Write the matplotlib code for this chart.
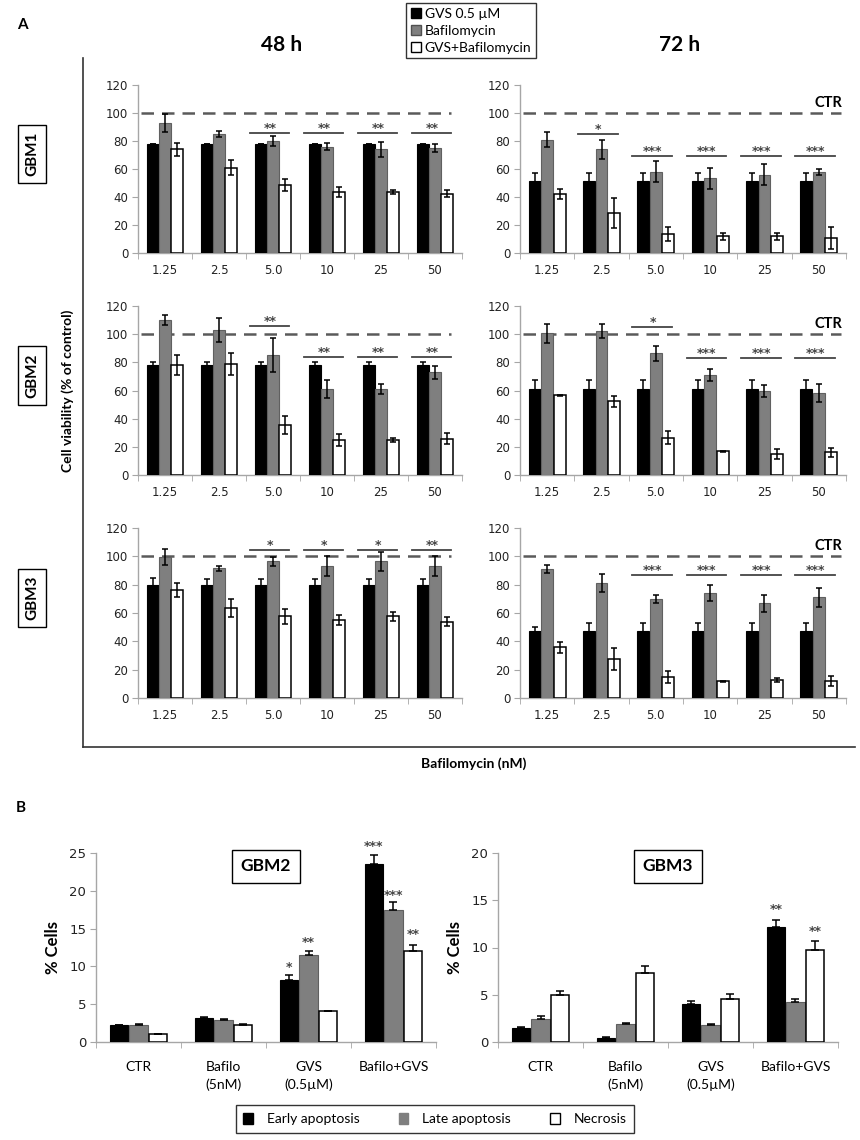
import numpy as np
import matplotlib
matplotlib.use('Agg')
import matplotlib.pyplot as plt
from matplotlib.patches import Patch
from matplotlib.lines import Line2D

plt.rcParams['font.family'] = ['Lato', 'DejaVu Sans']

# ---------------- dados ----------------
conc = ['1.25', '2.5', '5.0', '10', '25', '50']

# GBM1 48 h
g1_48_gvs = [78, 78, 78, 78, 78, 78]
g1_48_gvs_err = [0, 0, 0, 0, 0, 0]
g1_48_baf = [93, 85, 80, 76, 74, 75]
g1_48_baf_err = [6.5, 2, 3.5, 2.5, 5.5, 3]
g1_48_mix = [74, 61, 48.5, 43.5, 43.5, 42.5]
g1_48_mix_err = [4.5, 5.5, 4.3, 3.6, 1.2, 2.8]
g1_48_sig = [(2, 86, '**'), (3, 86, '**'), (4, 86, '**'), (5, 86, '**')]

# GBM1 72 h
g1_72_gvs = [51.5, 51.5, 51.5, 51.5, 51.5, 51.5]
g1_72_gvs_err = [5.7, 5.7, 5.7, 5.7, 5.7, 5.7]
g1_72_baf = [81, 74, 58, 53.5, 56, 58]
g1_72_baf_err = [5.5, 7, 7.5, 7.5, 7.5, 2]
g1_72_mix = [42, 28.5, 13.7, 11.8, 11.8, 10.7]
g1_72_mix_err = [3.5, 10.7, 5.2, 2.4, 2.4, 7.8]
g1_72_sig = [(1, 85, '*'), (2, 69.5, '***'), (3, 69.5, '***'), (4, 69.5, '***'), (5, 69.5, '***')]

# GBM2 48 h
g2_48_gvs = [78, 78, 78, 78, 78, 78]
g2_48_gvs_err = [2, 2, 2, 2, 2, 2]
g2_48_baf = [110, 103, 85, 61, 61, 73]
g2_48_baf_err = [3.5, 8.3, 12, 6.6, 3.5, 4.7]
g2_48_mix = [78, 78.7, 35.3, 25, 25, 25.8]
g2_48_mix_err = [7, 7.6, 6.4, 4.4, 1.5, 4]
g2_48_sig = [(2, 105.5, '**'), (3, 83.5, '**'), (4, 83.5, '**'), (5, 83.5, '**')]

# GBM2 72 h
g2_72_gvs = [61, 61, 61, 61, 61, 61]
g2_72_gvs_err = [6.5, 6.5, 6.5, 6.5, 6.5, 6.5]
g2_72_baf = [100.5, 102, 86.3, 71, 59.7, 58]
g2_72_baf_err = [7, 5, 5.2, 4.2, 4.5, 6.4]
g2_72_mix = [56.6, 52.4, 26.5, 16.8, 15.2, 16]
g2_72_mix_err = [0.3, 3.8, 4.7, 0.5, 3.5, 3.5]
g2_72_sig = [(2, 105, '*'), (3, 83, '***'), (4, 83, '***'), (5, 83, '***')]

# GBM3 48 h
g3_48_gvs = [80, 80, 80, 80, 80, 80]
g3_48_gvs_err = [5, 4, 4, 4, 4, 4]
g3_48_baf = [99.5, 91.5, 96.5, 93, 96.5, 93]
g3_48_baf_err = [5.5, 2, 3, 7, 6.5, 7]
g3_48_mix = [76, 63.5, 57.6, 55.3, 57.6, 54]
g3_48_mix_err = [5, 6.5, 5.5, 3.5, 3, 3.5]
g3_48_sig = [(2, 104.7, '*'), (3, 104.7, '*'), (4, 104.7, '*'), (5, 104.7, '**')]

# GBM3 72 h
g3_72_gvs = [47, 47, 47, 47, 47, 47]
g3_72_gvs_err = [3, 6, 6, 6, 6, 6]
g3_72_baf = [91, 81, 70, 74, 67, 71]
g3_72_baf_err = [3, 6.5, 3, 5.5, 6, 6.5]
g3_72_mix = [35.8, 27.5, 14.8, 11.8, 12.5, 12.2]
g3_72_mix_err = [4, 7.5, 4.5, 0.5, 1.5, 3.5]
g3_72_sig = [(2, 87, '***'), (3, 87, '***'), (4, 87, '***'), (5, 87, '***')]

# Painel B
grupos = ['CTR', 'Bafilo\n(5nM)', 'GVS\n(0.5µM)', 'Bafilo+GVS']
b2_early = [2.2, 3.2, 8.2, 23.5]
b2_early_err = [0.1, 0.1, 0.6, 1.3]
b2_late = [2.25, 2.95, 11.5, 17.5]
b2_late_err = [0.1, 0.05, 0.6, 1.0]
b2_necr = [1.0, 2.3, 4.1, 12.1]
b2_necr_err = [0.05, 0.05, 0.05, 0.7]
b2_sig = [(2, 0, 9.8, '*'), (2, 1, 13.2, '**'), (3, 0, 25.9, '***'), (3, 1, 19.4, '***'), (3, 2, 14.2, '**')]

b3_early = [1.5, 0.4, 4.0, 12.2]
b3_early_err = [0.1, 0.1, 0.35, 0.7]
b3_late = [2.4, 1.9, 1.8, 4.2]
b3_late_err = [0.35, 0.1, 0.1, 0.3]
b3_necr = [5.0, 7.3, 4.6, 9.7]
b3_necr_err = [0.4, 0.7, 0.5, 1.0]
b3_sig = [(3, 0, 14.0, '**'), (3, 2, 11.7, '**')]

# ---------------- layout ----------------
W, H = 860, 1140
fig = plt.figure(figsize=(W / 100, H / 100), dpi=100)


def rect(x0, y0, x1, y1):
    # caixa em pixels (origem no topo) -> fração da figura
    return [x0 / W, 1 - y1 / H, (x1 - x0) / W, (y1 - y0) / H]


def fx(x):
    return x / W


def fy(y):
    return 1 - y / H


GRAY = '#7f7f7f'
AXC = '#a6a6a6'
NUM = dict(family='DejaVu Sans', size=8.5, color='#222222')
off = 0.23
bw = 0.22
ekw = dict(ecolor='black', elinewidth=1.1, capthick=1.1)


def estilo_eixo(ax, n):
    for s in ['top', 'right']:
        ax.spines[s].set_visible(False)
    for s in ['left', 'bottom']:
        ax.spines[s].set_color(AXC)
        ax.spines[s].set_linewidth(1.0)
    ax.set_xlim(-0.5, n - 0.5)
    ax.set_xticks(np.arange(n))
    ax.set_xticks(np.arange(n + 1) - 0.5, minor=True)
    ax.tick_params(axis='x', which='major', length=0, pad=8)
    ax.tick_params(axis='x', which='minor', length=4, color=AXC, direction='out')
    ax.tick_params(axis='y', length=4, color=AXC, direction='out', pad=3)
    for lb in ax.get_yticklabels():
        lb.set_fontfamily(NUM['family'])
        lb.set_fontsize(NUM['size'])
        lb.set_color(NUM['color'])


def painel_viab(ax, gvs, gvs_e, baf, baf_e, mix, mix_e, sig, ctr):
    x = np.arange(len(conc))
    ax.bar(x - off, gvs, bw, color='black', edgecolor='black', lw=0.8,
           yerr=gvs_e, capsize=2.5, error_kw=ekw, zorder=3)
    ax.bar(x, baf, bw, color=GRAY, edgecolor='#606060', lw=0.8,
           yerr=baf_e, capsize=2.5, error_kw=ekw, zorder=3)
    ax.bar(x + off, mix, bw, color='white', edgecolor='black', lw=1.1,
           yerr=mix_e, capsize=2.5, error_kw=ekw, zorder=3)
    ax.plot([-0.45, 5.4 if ctr else 5.3], [100, 100], ls=(0, (5, 3.2)),
            color='#5a5a5a', lw=1.8, zorder=2)
    for g, yv, st in sig:
        ax.plot([g - 0.43, g + 0.3], [yv, yv], color='#444444', lw=1.3)
        ax.text(g - 0.06, yv + 3.2, st, ha='center', va='center',
                family='DejaVu Sans', fontsize=9, fontweight='bold', color='#444444')
    if ctr:
        ax.text(5.18, 107, 'CTR', ha='center', va='center', fontsize=10.5,
                fontweight='bold')
    ax.set_ylim(0, 120)
    ax.set_yticks(range(0, 121, 20))
    ax.set_xticklabels(conc, **NUM)
    estilo_eixo(ax, len(conc))


linhas = [
    ('GBM1', 85, 253, (g1_48_gvs, g1_48_gvs_err, g1_48_baf, g1_48_baf_err, g1_48_mix, g1_48_mix_err, g1_48_sig),
     (g1_72_gvs, g1_72_gvs_err, g1_72_baf, g1_72_baf_err, g1_72_mix, g1_72_mix_err, g1_72_sig)),
    ('GBM2', 306, 475, (g2_48_gvs, g2_48_gvs_err, g2_48_baf, g2_48_baf_err, g2_48_mix, g2_48_mix_err, g2_48_sig),
     (g2_72_gvs, g2_72_gvs_err, g2_72_baf, g2_72_baf_err, g2_72_mix, g2_72_mix_err, g2_72_sig)),
    ('GBM3', 528, 698, (g3_48_gvs, g3_48_gvs_err, g3_48_baf, g3_48_baf_err, g3_48_mix, g3_48_mix_err, g3_48_sig),
     (g3_72_gvs, g3_72_gvs_err, g3_72_baf, g3_72_baf_err, g3_72_mix, g3_72_mix_err, g3_72_sig)),
]

for nome, top, bot, d48, d72 in linhas:
    ax1 = fig.add_axes(rect(138, top, 462, bot))
    painel_viab(ax1, *d48, ctr=False)
    ax2 = fig.add_axes(rect(520, top, 846, bot))
    painel_viab(ax2, *d72, ctr=True)
    fig.text(fx(32), fy((top + bot) / 2 - 15), nome, rotation=90, ha='center', va='center',
             fontsize=11, fontweight='bold',
             bbox=dict(boxstyle='square,pad=0.45', fc='white', ec='black', lw=1.0))

# moldura do painel A
fig.add_artist(Line2D([fx(83), fx(83)], [fy(58), fy(747)], color='#333333', lw=1.2))
fig.add_artist(Line2D([fx(83), fx(855)], [fy(747), fy(747)], color='#333333', lw=1.2))

fig.text(fx(22), fy(25), 'A', fontsize=11, fontweight='bold', ha='center', va='center')
fig.text(fx(282), fy(45), '48 h', fontsize=15, fontweight='bold', ha='center', va='center')
fig.text(fx(680), fy(45), '72 h', fontsize=15, fontweight='bold', ha='center', va='center')
fig.text(fx(68), fy(391), 'Cell viability (% of control)', rotation=90, fontsize=10,
         fontweight='bold', ha='center', va='center')
fig.text(fx(474), fy(764), 'Bafilomycin (nM)', fontsize=10, fontweight='bold',
         ha='center', va='center')

leg_a = [Patch(fc='black', ec='black'), Patch(fc=GRAY, ec='#505050'), Patch(fc='white', ec='black')]
la = fig.legend(leg_a, ['GVS 0.5 µM', 'Bafilomycin', 'GVS+Bafilomycin'], loc='upper left',
                bbox_to_anchor=(fx(406), fy(3)), fontsize=10, frameon=True, fancybox=False,
                edgecolor='black', handlelength=0.7, handleheight=0.7, handletextpad=0.3,
                labelspacing=0.35, borderpad=0.35, borderaxespad=0)
la.get_frame().set_linewidth(1.0)

# ---------------- painel B ----------------
fig.text(fx(21), fy(808), 'B', fontsize=11, fontweight='bold', ha='center', va='center')


def painel_cel(ax, early, early_e, late, late_e, necr, necr_e, sig, ymax, nome):
    x = np.arange(len(grupos))
    ekw_b = dict(ecolor='black', elinewidth=1.1, capthick=1.1)
    ax.bar(x - off, early, bw, color='black', edgecolor='black', lw=0.8,
           yerr=[np.zeros(4), early_e], capsize=3, error_kw=ekw_b, zorder=3)
    ax.bar(x, late, bw, color=GRAY, edgecolor='#606060', lw=0.8,
           yerr=[np.zeros(4), late_e], capsize=3, error_kw=ekw_b, zorder=3)
    ax.bar(x + off, necr, bw, color='white', edgecolor='black', lw=1.1,
           yerr=[np.zeros(4), necr_e], capsize=3, error_kw=ekw_b, zorder=3)
    for g, k, yv, st in sig:
        ax.text(g + (k - 1) * off, yv, st, ha='center', va='center', family='DejaVu Sans',
                fontsize=9, fontweight='bold', color='#444444')
    ax.set_ylim(0, ymax)
    ax.set_yticks(range(0, ymax + 1, 5))
    ax.set_xticklabels(grupos, fontsize=10, linespacing=1.5)
    estilo_eixo(ax, len(grupos))
    ax.tick_params(axis='x', which='major', pad=14)
    ax.tick_params(axis='y', labelsize=9.5)
    ax.set_ylabel('% Cells', fontsize=12, fontweight='bold', labelpad=6)
    ax.text(0.5, 0.93, nome, transform=ax.transAxes, ha='center', va='center',
            fontsize=12.5, fontweight='bold',
            bbox=dict(boxstyle='square,pad=0.5', fc='white', ec='black', lw=1.0))


axb1 = fig.add_axes(rect(96, 853, 436, 1042))
painel_cel(axb1, b2_early, b2_early_err, b2_late, b2_late_err, b2_necr, b2_necr_err, b2_sig, 25, 'GBM2')
axb2 = fig.add_axes(rect(498, 853, 838, 1042))
painel_cel(axb2, b3_early, b3_early_err, b3_late, b3_late_err, b3_necr, b3_necr_err, b3_sig, 20, 'GBM3')

leg_b = [Patch(fc='black', ec='black'), Patch(fc=GRAY, ec=GRAY), Patch(fc='white', ec='black')]
lb = fig.legend(leg_b, ['Early apoptosis', 'Late apoptosis', 'Necrosis'], loc='center',
                bbox_to_anchor=(fx(435), fy(1119)), ncol=3, fontsize=10, frameon=True,
                fancybox=False, edgecolor='black', handlelength=0.7, handleheight=0.9,
                columnspacing=2.8, handletextpad=1.0, borderpad=0.55, borderaxespad=0)
lb.get_frame().set_linewidth(1.0)

fig.savefig('out.png', dpi=100)
